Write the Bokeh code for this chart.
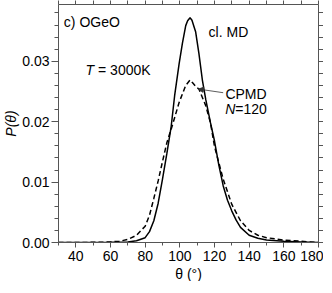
from bokeh.plotting import figure
from bokeh.models import (Range1d, LinearAxis, SingleIntervalTicker, FixedTicker, Label,
                          Arrow, NormalHead, ColumnDataSource, PrintfTickFormatter, Title)
from bokeh.embed import file_html
from bokeh.resources import INLINE

# ---- data ----
theta_md = [30, 60, 70, 75, 80, 82.5, 85, 87.5, 90, 92.5, 95, 97, 99.6, 101.5, 103.4,
            104.5, 105.9, 107, 109.1, 111, 113, 115, 117.7, 120, 122.5, 125, 127.5,
            130, 132.5, 135, 140, 145, 150, 160, 170, 180]
p_md = [0, 0.00003, 0.0001, 0.0003, 0.0008, 0.0018, 0.0036, 0.0065, 0.0105, 0.0147,
        0.0192, 0.0243, 0.0296, 0.0330, 0.0359, 0.0367, 0.0372, 0.0368, 0.0349, 0.0313,
        0.0269, 0.0236, 0.0198, 0.0168, 0.0128, 0.0094, 0.0070, 0.0052, 0.0037, 0.0025,
        0.0012, 0.0007, 0.0004, 0.0002, 0.0001, 0]

theta_cp = [30, 55, 60, 65, 70, 75, 80, 82.5, 85, 87.5, 90, 92.5, 95.8, 99.6, 103.4,
            105.9, 107.5, 109, 111, 114.9, 117.7, 120, 125, 130, 135, 140, 145, 150,
            160, 170, 180]
p_cp = [0, 0.00003, 0.0001, 0.0002, 0.0005, 0.0012, 0.0027, 0.0045, 0.0073, 0.0102,
        0.0134, 0.0165, 0.0195, 0.0232, 0.0260, 0.0269, 0.0264, 0.0259, 0.0254, 0.0227,
        0.0198, 0.0159, 0.0105, 0.0063, 0.0036, 0.0020, 0.0012, 0.0008, 0.0004,
        0.0002, 0]

x_start, x_end = 30, 180
y_start, y_end = 0.0, 0.0394
x_all_ticks = [30, 40, 50, 60, 70, 80, 90, 100, 110, 120, 130, 140, 150, 160, 170, 180]
y_all_ticks = [0.000, 0.002, 0.004, 0.006, 0.008, 0.010, 0.012, 0.014, 0.016, 0.018,
               0.020, 0.022, 0.024, 0.026, 0.028, 0.030, 0.032, 0.034, 0.036, 0.038]

FONT = "Liberation Sans"
AX = "#555555"

p = figure(frame_width=260, frame_height=238, output_backend="svg", toolbar_location=None,
           x_range=Range1d(x_start, x_end), y_range=Range1d(y_start, y_end),
           x_axis_location=None, y_axis_location=None,
           min_border_left=48, min_border_right=5, min_border_top=4, min_border_bottom=0)
p.outline_line_color = None
p.grid.visible = False
p.background_fill_color = "white"
p.border_fill_color = "white"


def style(ax, major_out=5, minor_out=3):
    ax.axis_line_color = AX
    ax.major_tick_line_color = AX
    ax.minor_tick_line_color = AX
    ax.major_tick_in = 0
    ax.minor_tick_in = 0
    ax.major_tick_out = major_out
    ax.minor_tick_out = minor_out
    ax.major_label_text_font = FONT
    ax.major_label_text_font_size = "14px"
    ax.major_label_text_color = "black"
    ax.axis_label_text_font = FONT
    ax.axis_label_text_font_size = "14px"
    ax.axis_label_text_color = "black"


bottom = LinearAxis(ticker=SingleIntervalTicker(interval=20, num_minor_ticks=2))
style(bottom, 5, 3)
bottom.major_label_standoff = 3
p.add_layout(bottom, "below")

# x-axis title, set under the tick labels
xtitle = Title(text="θ (°)", align="center", offset=-12, standoff=0,
               text_font=FONT, text_font_size="14px", text_font_style="normal",
               text_color="black")
p.add_layout(xtitle, "below")

left = LinearAxis(ticker=SingleIntervalTicker(interval=0.01, num_minor_ticks=5),
                  formatter=PrintfTickFormatter(format="%.2f"), axis_label="P(θ)")
style(left, 7, 4)
left.major_label_standoff = 2
left.axis_label_text_font_style = "italic"
left.axis_label_standoff = 0
p.add_layout(left, "left")

top = LinearAxis(ticker=FixedTicker(ticks=[], minor_ticks=x_all_ticks))
style(top, 0, 4)
top.major_label_standoff = 0
p.add_layout(top, "above")

right = LinearAxis(ticker=FixedTicker(ticks=[], minor_ticks=y_all_ticks))
style(right, 0, 5)
right.major_label_standoff = 0
p.add_layout(right, "right")

src_md = ColumnDataSource(dict(x=theta_md, y=p_md))
src_cp = ColumnDataSource(dict(x=theta_cp, y=p_cp))
p.line("x", "y", source=src_md, line_color="black", line_width=1.5)
p.line("x", "y", source=src_cp, line_color="black", line_width=1.5, line_dash="5 3")


def lab(x, y, text, style="normal", align="left", x_offset=0):
    p.add_layout(Label(x=x, y=y, text=text, text_font=FONT, text_font_size="14px",
                       text_font_style=style, text_align=align, text_baseline="top",
                       text_color="black", x_offset=x_offset))


lab(33.1, 0.0378, "c) OGeO")
lab(50.5, 0.0298, "T", style="italic", align="right")
lab(50.5, 0.0298, "= 3000K", x_offset=4)
lab(116.6, 0.0362, "cl. MD")
lab(126.3, 0.0259, "CPMD")
lab(132.0, 0.0235, "N", style="italic", align="right")
lab(132.0, 0.0235, "=120")

p.add_layout(Arrow(x_start=125, y_start=0.0248, x_end=110.7, y_end=0.0254,
                   line_color="#333333", line_width=0.8,
                   end=NormalHead(size=5, fill_color="#333333", line_color="#333333")))

open("out.html", "w").write(file_html(p, INLINE))
